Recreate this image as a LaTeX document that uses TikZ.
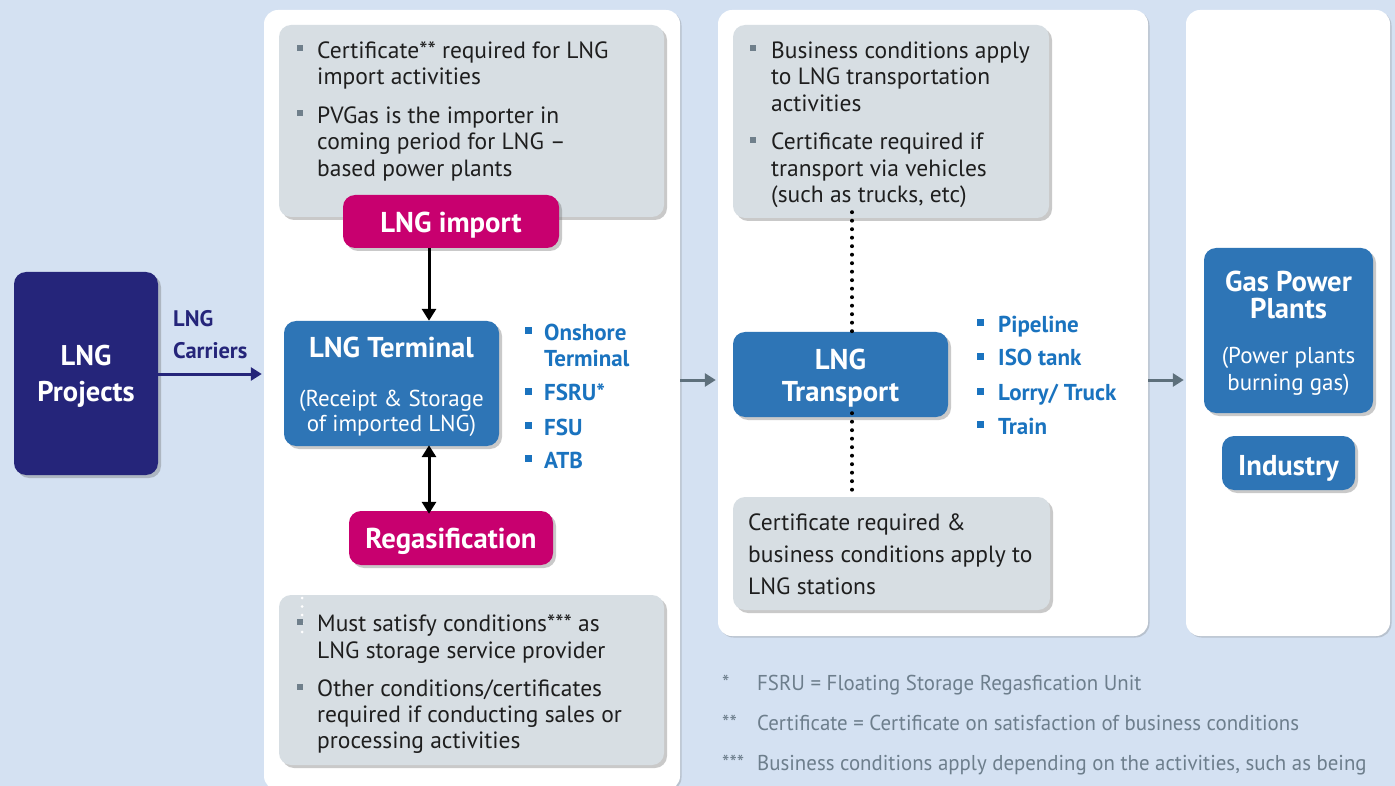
\documentclass[tikz,border=0pt]{standalone}
\usepackage{fontspec}
\setmainfont{PT Sans}
\newfontfamily\notefont[FakeStretch=0.97]{PT Sans}
\usetikzlibrary{arrows.meta,shadows}
\definecolor{bgblue}{HTML}{D4E1F2}
\definecolor{notegray}{HTML}{D7DEE3}
\definecolor{navy}{HTML}{25257A}
\definecolor{boxblue}{HTML}{2E75B6}
\definecolor{magenta}{HTML}{C8006F}
\definecolor{listblue}{HTML}{1A73BF}
\definecolor{footgray}{HTML}{6D7E8C}
\definecolor{arrowgray}{HTML}{5E707C}
\definecolor{bulletgray}{HTML}{6F7F8B}
\definecolor{darktext}{HTML}{1E1E1E}
\tikzset{
  panel/.style={fill=white, rounded corners=14pt, inner sep=0pt,
    drop shadow={shadow xshift=1.5pt, shadow yshift=-1.5pt, opacity=.25, fill=black!60}},
  notebox/.style={fill=notegray, rounded corners=12pt, inner sep=0pt,
    drop shadow={shadow xshift=3pt, shadow yshift=-3pt, opacity=.35, fill=black!60}},
  keybox/.style={rounded corners=12pt, inner sep=0pt,
    drop shadow={shadow xshift=3pt, shadow yshift=-3pt, opacity=.35, fill=black!60}},
  bluebox/.style={keybox, fill=boxblue},
  pinkbox/.style={keybox, fill=magenta},
  title/.style={anchor=base, inner sep=0pt, text=white, font=\bfseries\fontsize{28.7}{30}\selectfont},
  subtitle/.style={anchor=base, inner sep=0pt, text=white, font=\fontsize{23}{25}\selectfont},
  % multi-line texts are placed by the baseline of their last line
  notetext/.style={anchor=base west, inner sep=0pt, align=left, text=darktext,
    font=\fontsize{23.5}{26.5}\selectfont},
  listtext/.style={anchor=base west, inner sep=0pt, align=left, text=listblue,
    font=\bfseries\fontsize{23}{26}\selectfont},
  foottext/.style={anchor=base west, inner sep=0pt, text=footgray,
    font=\notefont\fontsize{21.5}{24}\selectfont},
  gbullet/.style={fill=bulletgray, minimum size=6pt, inner sep=0pt},
  bbullet/.style={fill=listblue, minimum size=7pt, inner sep=0pt},
  blackarrow/.style={line width=3pt, draw=black, -{Triangle[width=14pt,length=12pt]}},
  grayarrow/.style={line width=3pt, draw=arrowgray, -{Triangle[width=13pt,length=11pt]}},
  dotline/.style={line width=4pt, line cap=round, dash pattern=on 0pt off 8.5pt},
}
\begin{document}
\begin{tikzpicture}[x=1pt,y=-1pt]
\useasboundingbox (0,0) rectangle (1395,786);
\fill[bgblue] (0,0) rectangle (1395,786);

% three white panels
\node[panel, minimum width=416pt, minimum height=780pt] (panel1) at (472,400) {};
\node[panel, minimum width=430pt, minimum height=626pt] (panel2) at (933,323) {};
\node[panel, minimum width=204pt, minimum height=626pt] (panel3) at (1288,323) {};

% source
\node[keybox, fill=navy, minimum width=144pt, minimum height=203pt] (proj) at (86,373.5) {};
\node[title, font=\bfseries\fontsize{28.5}{30}\selectfont] (projA) at (86,365) {LNG};
\node[title, font=\bfseries\fontsize{28.5}{30}\selectfont] (projB) at (86,401.7) {Projects};
\coordinate (carry) at (0,374);
\draw[line width=3pt, navy, -{Triangle[width=13pt,length=11pt]}] (proj.east |- carry) -- ([xshift=-2pt]panel1.west |- carry);
\node[anchor=base west, inner sep=0pt, align=left, text=navy, font=\bfseries\fontsize{22.5}{31.6}\selectfont] (carriers) at (173,358.3) {LNG\\Carriers};

% import column
\node[notebox, minimum width=385pt, minimum height=192pt] (note1) at (471.5,121) {};
\node[gbullet] (b1) at (299.5,48) {};
\node[notetext] (t1) at (317,84.8) {Certificate** required for LNG\\import activities};
\node[gbullet] (b2) at (299.5,113) {};
\node[notetext] (t2) at (317,176.2) {PVGas is the importer in\\coming period for LNG –\\based power plants};

\node[pinkbox, minimum width=216pt, minimum height=53pt] (imp) at (451,221.5) {};
\node[title] (impT) at (451,232.7) {LNG import};

\node[bluebox, minimum width=215pt, minimum height=125pt] (term) at (391.5,383.5) {};
\node[title] (termT) at (391.5,357.3) {LNG Terminal};
\node[subtitle] (termA) at (391.5,406.7) {(Receipt \& Storage};
\node[subtitle] (termB) at (391.5,431.7) {of imported LNG)};

\node[pinkbox, minimum width=204pt, minimum height=54pt] (regas) at (451,538) {};
\node[title] (regasT) at (451,548) {Regasification};

\coordinate (ax) at (429,0);
\draw[blackarrow] (imp.south -| ax) -- (term.north -| ax);
\draw[blackarrow, {Triangle[width=14pt,length=12pt]}-{Triangle[width=14pt,length=12pt]}] ([yshift=1pt]term.south -| ax) -- ([yshift=-3pt]regas.north -| ax);

\node[bbullet] (l1) at (528.5,331) {};
\node[listtext] (lt1) at (544,366.7) {Onshore\\Terminal};
\node[bbullet] (l2) at (528.5,391) {};
\node[listtext] (lt2) at (544,400.7) {FSRU*};
\node[bbullet] (l3) at (528.5,425) {};
\node[listtext] (lt3) at (544,435) {FSU};
\node[bbullet] (l4) at (528.5,458.5) {};
\node[listtext] (lt4) at (544,468.3) {ATB};

\node[notebox, minimum width=385pt, minimum height=170pt] (note2) at (471.5,680) {};
\draw[dotline, line width=3pt, white] (302,598) -- (302,633);
\node[gbullet] (b3) at (299.5,622) {};
\node[notetext] (t3) at (317,658.2) {Must satisfy conditions*** as\\LNG storage service provider};
\node[gbullet] (b4) at (299.5,687) {};
\node[notetext, font=\fontsize{23.5}{26}\selectfont] (t4) at (317,748.7) {Other conditions/certificates\\required if conducting sales or\\processing activities};

% transport column
\node[notebox, minimum width=316pt, minimum height=193pt] (note3) at (891,121.5) {};
\node[gbullet] (b5) at (753,48) {};
\node[notetext] (t5) at (771,111.3) {Business conditions apply\\to LNG transportation\\activities};
\node[gbullet] (b6) at (753,140) {};
\node[notetext] (t6) at (771,203) {Certificate required if\\transport via vehicles\\(such as trucks, etc)};

\node[bluebox, minimum width=215pt, minimum height=85pt] (trans) at (840.5,374.5) {};
\node[title] (transA) at (840.5,370) {LNG};
\node[title] (transB) at (840.5,401) {Transport};

\node[notebox, minimum width=317pt, minimum height=113pt] (note4) at (891.5,553.5) {};
\node[notetext, font=\fontsize{23.5}{32}\selectfont] (t7) at (748,594) {Certificate required \&\\business conditions apply to\\LNG stations};

\coordinate (dx) at (852,0);
\draw[dotline] ([yshift=6pt]note3.south -| dx) -- (trans.north -| dx);
\draw[dotline] ([yshift=4pt]trans.south -| dx) -- (note4.north -| dx);

\node[bbullet] (m1) at (980,322.5) {};
\node[listtext] (mt1) at (998,332.3) {Pipeline};
\node[bbullet] (m2) at (980,356) {};
\node[listtext] (mt2) at (998,366) {ISO tank};
\node[bbullet] (m3) at (980,391) {};
\node[listtext] (mt3) at (998,400.7) {Lorry/ Truck};
\node[bbullet] (m4) at (980,424.5) {};
\node[listtext] (mt4) at (998,434.3) {Train};

% end users
\node[bluebox, minimum width=169pt, minimum height=165pt] (gpp) at (1288.5,330.5) {};
\node[title] (gppA) at (1288.5,291.5) {Gas Power};
\node[title] (gppB) at (1288.5,318.3) {Plants};
\node[subtitle] (gppC) at (1288.5,363.3) {(Power plants};
\node[subtitle] (gppD) at (1288.5,390) {burning gas)};
\node[bluebox, minimum width=133pt, minimum height=54pt] (ind) at (1288.5,463) {};
\node[title] (indT) at (1288.5,475) {Industry};

% flow between panels
\coordinate (ay) at (0,380);
\draw[grayarrow] (panel1.east |- ay) -- ([xshift=-2pt]panel2.west |- ay);
\draw[grayarrow] (panel2.east |- ay) -- ([xshift=-2pt]panel3.west |- ay);

% footnotes
\node[foottext] (f1s) at (722,690) {*};
\node[foottext] (f1) at (757,690) {FSRU = Floating Storage Regasfication Unit};
\node[foottext] (f2s) at (722,730) {**};
\node[foottext] (f2) at (757,730) {Certificate = Certificate on satisfaction of business conditions};
\node[foottext] (f3s) at (722,770) {***};
\node[foottext] (f3) at (757,770) {Business conditions apply depending on the activities, such as being};
\end{tikzpicture}
\end{document}
